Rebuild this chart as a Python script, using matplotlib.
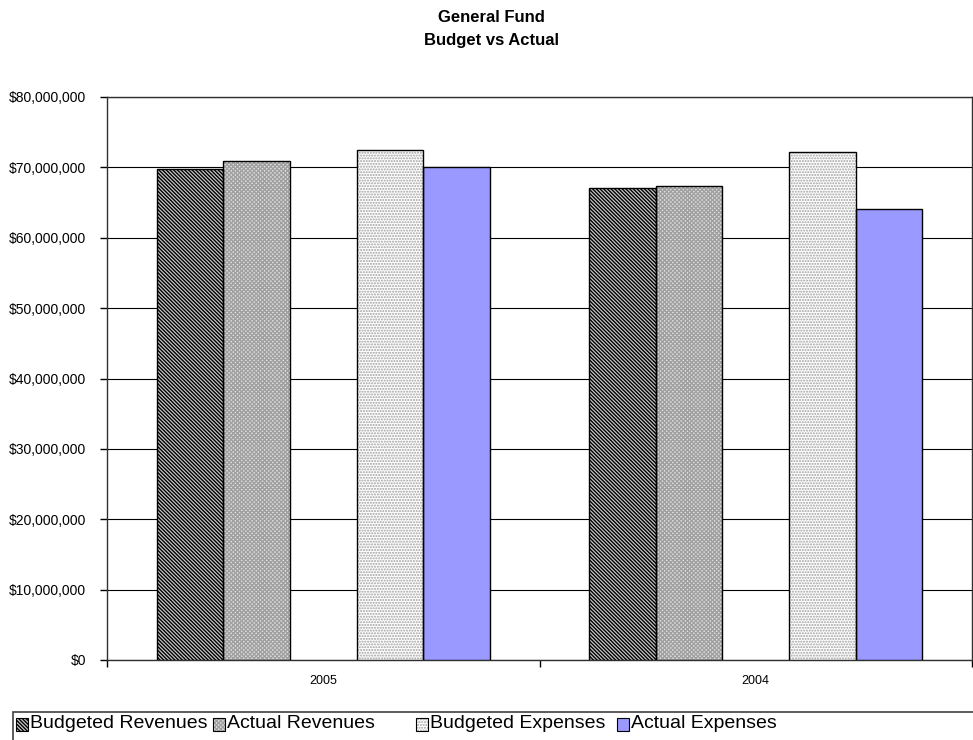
# General Fund - budget vs actual, grouped bars per fiscal year
import numpy as np
import matplotlib.pyplot as plt
from matplotlib.patches import Rectangle
from matplotlib.ticker import FuncFormatter, MultipleLocator

plt.rcParams['font.family'] = ['Liberation Sans', 'DejaVu Sans']
plt.rcParams['hatch.linewidth'] = 1.0

# datos
years = ['2005', '2004']
budgeted_revenues = [69.8e6, 67.1e6]
actual_revenues = [70.95e6, 67.3e6]
budgeted_expenses = [72.4e6, 72.2e6]
actual_expenses = [70.05e6, 64.1e6]

series_names = ['Budgeted Revenues', 'Actual Revenues', 'Budgeted Expenses', 'Actual Expenses']
series_values = [budgeted_revenues, actual_revenues, budgeted_expenses, actual_expenses]
# slot 2 queda vacio (serie en blanco entre ingresos y gastos)
slots = [0, 1, 3, 4]
# (relleno, trama, color de trama)
styles = [
    ('#c8c8c8', '\\' * 9, '#000000'),
    ('#e0e0e0', 'x' * 8, '#a0a0a0'),
    ('#ffffff', '.' * 6, '#a0a0a0'),
    ('#9999ff', '', '#9999ff'),
]

fig = plt.figure(figsize=(9.73, 7.4), dpi=100)
ax = fig.add_axes([107 / 973, 80 / 740, 865 / 973, 563 / 740])

w = 1 / (5 + 1.5)
x = np.arange(len(years))
for name, vals, slot, (fc, hatch, hc) in zip(series_names, series_values, slots, styles):
    pos = x + (slot - 2) * w
    ax.bar(pos, vals, width=w, color=fc, hatch=hatch, edgecolor=hc, linewidth=0, zorder=3)
    ax.bar(pos, vals, width=w, fill=False, edgecolor='black', linewidth=1.0, zorder=4)

ax.set_xlim(-0.5, 1.5)
ax.set_ylim(0, 80e6)
ax.yaxis.set_major_locator(MultipleLocator(10e6))
ax.yaxis.set_major_formatter(FuncFormatter(lambda v, p: '${:,.0f}'.format(v)))
ax.grid(axis='y', color='black', linewidth=0.8, zorder=0)
ax.set_axisbelow(True)

ax.set_xticks(x)
ax.set_xticklabels(years, fontsize=9)
ax.set_xticks([-0.5, 0.5, 1.5], minor=True)
ax.tick_params(axis='x', which='major', length=0, pad=11)
ax.tick_params(axis='x', which='minor', length=5, direction='out', width=1)
ax.tick_params(axis='y', length=5, direction='out', width=1, labelsize=10, pad=10)
for s in ax.spines.values():
    s.set_color('#303030')
    s.set_linewidth(1.0)

# titulo
fig.text(491 / 973, 1 - 18 / 740, 'General Fund', ha='center', va='center', fontsize=12, fontweight='bold')
fig.text(491 / 973, 1 - 40 / 740, 'Budget vs Actual', ha='center', va='center', fontsize=12, fontweight='bold')

# leyenda dibujada a mano
fig.patches.append(Rectangle((13 / 973, -0.01), 0.99, (740 - 712) / 740 + 0.01, transform=fig.transFigure,
                             fill=False, edgecolor='#404040', linewidth=1.2))
entry_x = [16, 213, 416, 617]
for name, ex, (fc, hatch, hc) in zip(series_names, entry_x, styles):
    fig.patches.append(Rectangle((ex / 973, 1 - 731 / 740), 12 / 973, 13 / 740, transform=fig.transFigure,
                                 facecolor=fc, hatch=hatch, edgecolor=hc, linewidth=0))
    fig.patches.append(Rectangle((ex / 973, 1 - 731 / 740), 12 / 973, 13 / 740, transform=fig.transFigure,
                                 fill=False, edgecolor='black', linewidth=0.8))
    fig.text((ex + 14) / 973, 1 - 724 / 740, name, ha='left', va='center', fontsize=14)

fig.savefig('out.png', dpi=100)
